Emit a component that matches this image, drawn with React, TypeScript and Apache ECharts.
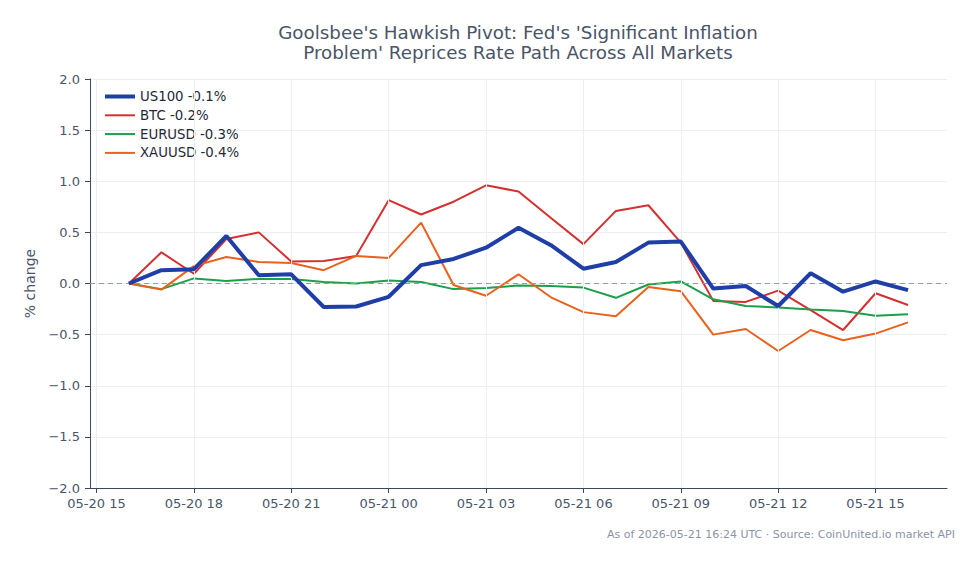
import React, { useEffect, useRef } from "react";
import * as echarts from "echarts";

// Hourly % change, one point per hour from 05-20 16:00 UTC
const BASE_UTC = Date.UTC(2026, 4, 20, 15, 0, 0); // x = hours after 05-20 15:00 UTC
const HOUR = 3600 * 1000;

const symbols = ["US100", "BTC", "EURUSD", "XAUUSD"];
const hours = [
  1, 2, 3, 4, 5, 6, 7, 8, 9, 10, 11, 12, 13, 14, 15, 16, 17, 18, 19, 20, 21, 22, 23, 24, 25,
];

const us100 = [
  0, 0.13, 0.14, 0.465, 0.08, 0.09, -0.23, -0.225, -0.13, 0.18, 0.24, 0.35, 0.545,
  0.375, 0.145, 0.21, 0.4, 0.41, -0.05, -0.025, -0.22, 0.1, -0.08, 0.02, -0.065,
];
const btc = [
  0, 0.305, 0.095, 0.435, 0.5, 0.215, 0.22, 0.27, 0.815, 0.675, 0.8, 0.96, 0.9,
  0.64, 0.385, 0.71, 0.765, 0.4, -0.17, -0.18, -0.07, -0.26, -0.455, -0.095, -0.21,
];
const eurusd = [
  0, -0.055, 0.05, 0.025, 0.045, 0.045, 0.015, 0.0, 0.03, 0.015, -0.055, -0.045, -0.02,
  -0.025, -0.04, -0.14, -0.01, 0.02, -0.155, -0.22, -0.235, -0.255, -0.27, -0.315, -0.3,
];
const xauusd = [
  0, -0.06, 0.17, 0.26, 0.21, 0.2, 0.13, 0.27, 0.25, 0.595, -0.015, -0.12, 0.09,
  -0.135, -0.28, -0.32, -0.035, -0.075, -0.5, -0.445, -0.66, -0.455, -0.555, -0.49, -0.38,
];

const seriesValues = [us100, btc, eurusd, xauusd];
const seriesColors = ["#1f3fa6", "#d3302f", "#1d9e4b", "#e8621c"];
const seriesWidths = [4, 2, 2, 2];
// Legend swatches: flat bars whose aspect gives the stroke thickness
const legendIcons = [
  "path://M0,0H30V4H0Z",
  "path://M0,0H30V2H0Z",
  "path://M0,0H30V2H0Z",
  "path://M0,0H30V2H0Z",
];

// Axis ticks every 3 hours starting at 05-20 15:00
const xTickHours = [0, 3, 6, 9, 12, 15, 18, 21, 24];

const TITLE =
  "Goolsbee's Hawkish Pivot: Fed's 'Significant Inflation\nProblem' Reprices Rate Path Across All Markets";
const FOOTNOTE = "As of 2026-05-21 16:24 UTC · Source: CoinUnited.io market API";

const FONT = "DejaVu Sans, sans-serif";
const TEXT = "#4a5568";
const AXIS = "#3d4a5c";
const GRID = "#eceef3";

const pad = (n: number) => String(n).padStart(2, "0");
const fmtHour = (h: number) => {
  const d = new Date(BASE_UTC + Math.round(h) * HOUR);
  return `${pad(d.getUTCMonth() + 1)}-${pad(d.getUTCDate())} ${pad(d.getUTCHours())}`;
};
const fmtY = (v: number) => (v < 0 ? "\u2212" + Math.abs(v).toFixed(1) : v.toFixed(1));

export default function App() {
  const ref = useRef<HTMLDivElement>(null);

  useEffect(() => {
    if (!ref.current) return;
    const chart = echarts.init(ref.current, null, { renderer: "svg" });

    const names = symbols.map((s, i) => {
      const vals = seriesValues[i];
      return `${s} ${vals[vals.length - 1].toFixed(1)}%`;
    });
    const xMin = hours[0] - 1.2;
    const xMax = hours[hours.length - 1] + 1.2;

    // Background layer: vertical grid lines at the 3-hour ticks and the dashed zero line
    const guides: any = {
      name: "guides",
      type: "line",
      data: [],
      z: 0,
      silent: true,
      markLine: {
        silent: true,
        symbol: "none",
        label: { show: false },
        animation: false,
        data: [
          ...xTickHours.map((h) => ({
            xAxis: h,
            lineStyle: { color: GRID, type: "solid", width: 1 },
          })),
          { yAxis: 0, lineStyle: { color: "#8c9bb5", type: [5, 4], width: 1 } },
        ],
      },
    };

    const series: any[] = seriesValues.map((vals, i) => ({
      name: names[i],
      type: "line",
      symbol: "none",
      color: seriesColors[i],
      lineStyle: { color: seriesColors[i], width: seriesWidths[i] },
      z: i === 0 ? 5 : 3,
      data: vals.map((v, k) => [hours[k], v]),
    }));

    chart.setOption({
      animation: false,
      backgroundColor: "#ffffff",
      textStyle: { fontFamily: FONT },
      title: {
        text: TITLE,
        left: 513,
        top: 17,
        textAlign: "center",
        textStyle: {
          fontFamily: FONT,
          fontSize: 18.3,
          fontWeight: "normal",
          color: TEXT,
          lineHeight: 20,
        },
      },
      legend: {
        orient: "vertical",
        left: 100,
        top: 85,
        itemWidth: 30,
        itemHeight: 14,
        itemGap: 5.8,
        textStyle: { fontFamily: FONT, fontSize: 13.3, color: "#1f2937" },
        data: names.map((n, i) => ({ name: n, icon: legendIcons[i] })),
      },
      grid: { left: 90, right: 32, top: 79, bottom: 76 },
      xAxis: {
        type: "value",
        min: xMin,
        max: xMax,
        axisLine: { show: true, onZero: false, lineStyle: { color: AXIS, width: 1 } },
        axisTick: {
          show: true,
          length: 5,
          lineStyle: { color: AXIS },
          customValues: xTickHours,
        },
        axisLabel: {
          customValues: xTickHours,
          formatter: (v: number) => fmtHour(v),
          color: TEXT,
          fontFamily: FONT,
          fontSize: 13,
          margin: 9,
        },
        splitLine: { show: false },
      },
      yAxis: {
        type: "value",
        min: -2,
        max: 2,
        interval: 0.5,
        name: "% change",
        nameLocation: "middle",
        nameGap: 53,
        nameTextStyle: { fontFamily: FONT, fontSize: 14, color: TEXT },
        axisLine: { show: true, onZero: false, lineStyle: { color: AXIS, width: 1 } },
        axisTick: { show: true, length: 5, lineStyle: { color: AXIS } },
        axisLabel: {
          formatter: (v: number) => fmtY(v),
          color: TEXT,
          fontFamily: FONT,
          fontSize: 13,
          margin: 10,
        },
        splitLine: { show: true, lineStyle: { color: GRID, width: 1 } },
      },
      graphic: [
        {
          type: "text",
          right: 24,
          top: 529,
          style: {
            text: FOOTNOTE,
            fill: "#8a94a6",
            font: `11px ${FONT}`,
          },
        },
      ],
      series: [guides, ...series],
    });

    return () => chart.dispose();
  }, []);

  return (
    <div
      ref={ref}
      style={{ position: "fixed", left: 0, top: 0, width: 979, height: 564 }}
    />
  );
}
